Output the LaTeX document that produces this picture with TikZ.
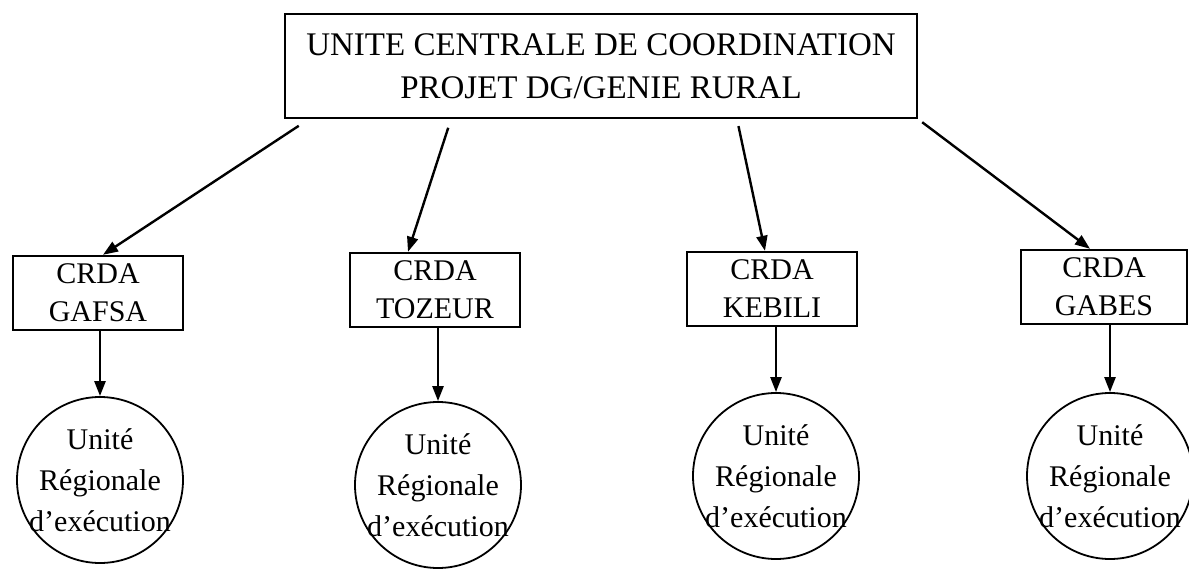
\documentclass[tikz,border=0pt]{standalone}
\usepackage{fontspec}
\setmainfont{Liberation Serif}
\usetikzlibrary{arrows.meta,calc}
\begin{document}
\begin{tikzpicture}[x=1pt,y=-1pt,
  box/.style={draw,line width=2.4pt,minimum height=74pt,minimum width=170pt,inner sep=0pt,align=center,
    font=\fontsize{30}{38}\selectfont},
  unit/.style={draw,line width=1.8pt,circle,minimum size=166pt,inner sep=-15pt,align=center,
    font=\fontsize{30}{41}\selectfont},
  arr/.style={line width=2.4pt,-{Triangle[length=15pt,width=11pt]}}]
\useasboundingbox (0,0) rectangle (1189,570);
% coordinating unit
\node[draw,line width=2.4pt,minimum width=632pt,minimum height=104pt,align=center,
  font=\fontsize{33}{43}\selectfont] (top) at (601,66)
  {UNITE CENTRALE DE COORDINATION\\PROJET DG/GENIE RURAL};
% regional CRDA offices
\node[box] (g) at (98,293) {CRDA\\GAFSA};
\node[box] (t) at (435,290) {CRDA\\TOZEUR};
\node[box] (k) at (772,289) {CRDA\\KEBILI};
\node[box,minimum width=166pt] (b) at (1104,287) {CRDA\\GABES};
% regional execution units
\node[unit] (u1) at (100,480) {Unité\\Régionale\\d’exécution};
\node[unit] (u2) at (438,485) {Unité\\Régionale\\d’exécution};
\node[unit] (u3) at (776,476) {Unité\\Régionale\\d’exécution};
\node[unit] (u4) at (1110,476) {Unité\\Régionale\\d’exécution};
% links from the central unit
\draw[arr,shorten <=12pt] ([xshift=25pt]top.south west) -- ([xshift=5pt]g.north);
\draw[arr,shorten <=9pt] ([xshift=-150pt]top.south) -- ([xshift=-27pt]t.north);
\draw[arr,shorten <=7pt] ([xshift=136pt]top.south) -- ([xshift=-7pt]k.north);
\draw[arr,shorten <=5pt] (top.south east) -- ([xshift=-14pt]b.north);
% links down to the execution units
\draw[arr] (u1.north |- g.south) -- (u1.north);
\draw[arr] (u2.north |- t.south) -- (u2.north);
\draw[arr] (u3.north |- k.south) -- (u3.north);
\draw[arr] (u4.north |- b.south) -- (u4.north);
\end{tikzpicture}
\end{document}
